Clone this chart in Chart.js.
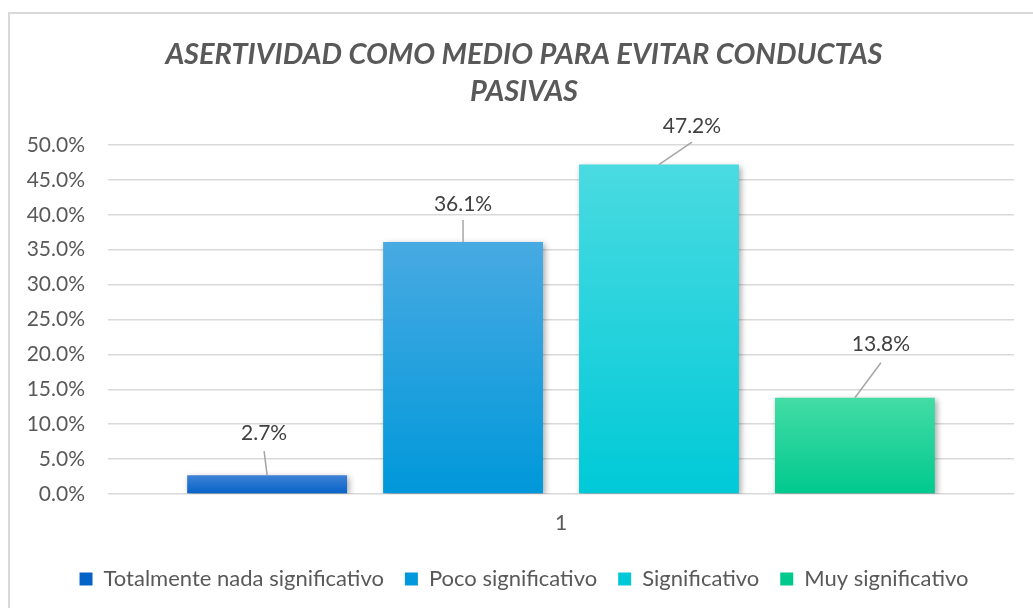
<!DOCTYPE html>
<html>
<head>
<meta charset="utf-8">
<script src="https://cdn.jsdelivr.net/npm/chart.js@4.4.1/dist/chart.umd.min.js"></script>
<style>
  html, body { margin: 0; padding: 0; background: #ffffff; overflow: hidden; }
  #wrap { position: relative; width: 1033px; height: 608px; }
</style>
</head>
<body>
<div id="wrap"><canvas id="c" width="1033" height="608"></canvas></div>
<script>
// ---- data ----
const categories = ['1'];
const seriesNames = ['Totalmente nada significativo', 'Poco significativo', 'Significativo', 'Muy significativo'];
const seriesValues = [[2.7], [36.1], [47.2], [13.8]];
const yTicks = [0, 5, 10, 15, 20, 25, 30, 35, 40, 45, 50];
const chartTitle = ['ASERTIVIDAD COMO MEDIO PARA EVITAR CONDUCTAS', 'PASIVAS'];

// ---- styles ----
const gradientStops = [
  ['#3f82d6', '#0562c8'],
  ['#48aae2', '#0098da'],
  ['#4adbe1', '#00c9d7'],
  ['#44dca6', '#00c98d']
];
const labelOffsets = [[-3, 42, 18], [0, 38, 16], [33, 38.5, 16], [26, 53, 18]];
const FONT = 'Lato, "Noto Sans", sans-serif';

function barFill(i) {
  return function (ctx) {
    const chart = ctx.chart;
    const area = chart.chartArea;
    if (!area) return gradientStops[i][1];
    const y = chart.scales.y;
    const v = (ctx.raw !== undefined && ctx.raw !== null) ? ctx.raw : seriesValues[i][0];
    const top = y.getPixelForValue(v);
    const base = y.getPixelForValue(0);
    const g = chart.ctx.createLinearGradient(0, top, 0, Math.max(base, top + 1));
    g.addColorStop(0, gradientStops[i][0]);
    g.addColorStop(1, gradientStops[i][1]);
    return g;
  };
}

const borderPlugin = {
  id: 'outerBorder',
  beforeDraw(chart) {
    const c = chart.ctx;
    c.save();
    c.fillStyle = '#ffffff';
    c.fillRect(0, 0, chart.width, chart.height);
    c.strokeStyle = '#d9d9d9';
    c.lineWidth = 2;
    c.strokeRect(9, 13, chart.width + 40, chart.height + 40);
    c.restore();
  }
};

// widen the y-axis label clip box so the tick labels are not cut off
const axisClipPlugin = {
  id: 'axisClip',
  afterLayout(chart) {
    if (chart.scales.y) chart.scales.y.left = 12;
  }
};

const shadowPlugin = {
  id: 'barShadow',
  beforeDatasetDraw(chart) {
    const c = chart.ctx;
    c.save();
    c.shadowColor = 'rgba(0,0,0,0.35)';
    c.shadowBlur = 6;
    c.shadowOffsetX = 2;
    c.shadowOffsetY = 2;
  },
  afterDatasetDraw(chart) {
    chart.ctx.restore();
  }
};

const labelPlugin = {
  id: 'leaderLabels',
  afterDatasetsDraw(chart) {
    const c = chart.ctx;
    c.save();
    chart.data.datasets.forEach((ds, i) => {
      const meta = chart.getDatasetMeta(i);
      const bar = meta.data[0];
      if (!bar) return;
      const off = labelOffsets[i];
      const lx = bar.x + off[0];
      const ly = bar.y - off[1];
      c.strokeStyle = '#a6a6a6';
      c.lineWidth = 1.5;
      c.beginPath();
      c.moveTo(lx, ly + off[2]);
      c.lineTo(bar.x, bar.y);
      c.stroke();
      c.fillStyle = '#404040';
      c.font = '21px ' + FONT;
      c.textAlign = 'center';
      c.textBaseline = 'middle';
      c.fillText(ds.data[0].toFixed(1) + '%', lx, ly);
    });
    c.restore();
  }
};

const datasets = seriesNames.map((name, i) => ({
  label: name,
  data: seriesValues[i],
  backgroundColor: barFill(i),
  borderWidth: 0,
  barPercentage: 0.816,
  categoryPercentage: 0.865
}));

new Chart(document.getElementById('c'), {
  type: 'bar',
  data: { labels: categories, datasets },
  plugins: [borderPlugin, axisClipPlugin, shadowPlugin, labelPlugin],
  options: {
    responsive: false,
    animation: false,
    layout: { padding: { left: 34, right: 19, top: 0, bottom: 8 } },
    plugins: {
      tooltip: { enabled: false },
      title: {
        display: true,
        text: chartTitle,
        color: '#595959',
        font: { family: FONT, size: 29, weight: 'bold', style: 'italic', lineHeight: 1.276 },
        padding: { top: 36, bottom: 35 }
      },
      legend: {
        position: 'bottom',
        labels: {
          color: '#595959',
          font: { family: FONT, size: 22 },
          boxWidth: 13,
          boxHeight: 13,
          padding: 21
        }
      }
    },
    scales: {
      x: {
        grid: { display: false, drawTicks: false },
        border: { display: false },
        ticks: { color: '#595959', font: { family: FONT, size: 21 }, padding: 17 },
        afterFit(axis) { axis.height = 53; }
      },
      y: {
        min: 0,
        max: 50,
        afterBuildTicks(axis) { axis.ticks = yTicks.map(v => ({ value: v })); },
        afterFit(axis) { axis.width = 74; },
        grid: { color: '#d9d9d9', lineWidth: 1.5, drawTicks: false },
        border: { display: false },
        ticks: {
          color: '#595959',
          font: { family: FONT, size: 21 },
          padding: 23,
          callback: v => Number(v).toFixed(1) + '%'
        }
      }
    }
  }
});
</script>
</body>
</html>
